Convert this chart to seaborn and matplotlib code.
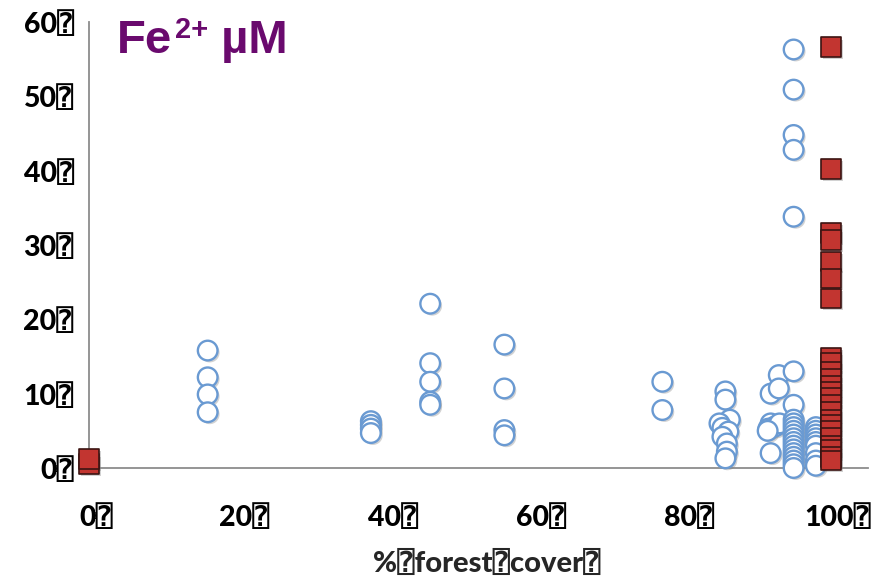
import matplotlib
matplotlib.use("Agg")
import matplotlib.pyplot as plt
import matplotlib.patheffects as pe
import matplotlib.transforms as mtransforms
import seaborn as sns
import pandas as pd

# ---- data ----
circle_x = [16, 16, 16, 16,
            38, 38, 38, 38,
            46, 46, 46, 46, 46,
            56, 56, 56, 56,
            77.3, 77.3,
            85.8, 85.8, 86.4, 85.0, 85.4, 86.2, 85.4, 86.0, 86.0, 85.8,
            93.0, 91.9, 93.0, 91.9, 92.5, 91.6, 93.1, 91.9, 91.5,
            95, 95, 95, 95, 95, 95, 95, 95, 95, 95, 95, 95, 95, 95, 95, 95, 95, 95, 95, 95, 95,
            98, 98, 98, 98, 98, 98, 98, 98, 98]
circle_y = [15.8, 12.2, 9.9, 7.5,
            6.3, 5.8, 5.3, 4.7,
            22.1, 14.1, 11.6, 8.9, 8.5,
            16.6, 10.7, 5.1, 4.4,
            11.6, 7.8,
            10.3, 9.2, 6.5, 6.0, 5.4, 4.9, 4.2, 3.3, 2.2, 1.3,
            12.5, 10.0, 10.7, 6.0, 5.6, 5.3, 6.0, 2.0, 5.0,
            56.3, 50.9, 44.8, 42.8, 33.8, 13.0, 8.5, 6.5, 6.0, 5.5, 5.0, 4.5, 4.0, 3.5, 3.0, 2.5, 2.0, 1.5, 1.0, 0.5, 0.0,
            5.5, 5.0, 4.5, 4.0, 3.5, 3.0, 2.0, 1.0, 0.3]
square_x = [0, 0] + [100] * 24
square_y = [0.5, 1.2,
            56.6, 40.2, 31.6, 30.7, 27.8, 25.5, 22.8, 14.8, 14.2, 13.0, 12.0, 11.0,
            10.2, 9.5, 8.5, 7.5, 6.5, 5.8, 5.0, 4.0, 3.0, 2.5, 1.5, 1.0]

TOFU = "\u2370"
x_ticks = [0, 20, 40, 60, 80, 100]
y_ticks = [0, 10, 20, 30, 40, 50, 60]
x_tick_labels = [f"{v}{TOFU}" for v in x_ticks]
y_tick_labels = [f"{v}{TOFU}" for v in y_ticks]
x_label = f"%{TOFU}forest{TOFU}cover{TOFU}"
title_main = "Fe"
title_sup = "2+"
title_unit = " µM"

circles = pd.DataFrame({"x": circle_x, "y": circle_y})
squares = pd.DataFrame({"x": square_x, "y": square_y})

sns.set_style("white")
plt.rcParams["font.family"] = ["Lato", "DejaVu Sans", "DejaVu Sans Mono"]

W, H = 877, 577
fig = plt.figure(figsize=(W / 100, H / 100), dpi=100)
ax = fig.add_axes([0.1015, 0.1889, 0.888, 0.773])

shadow = [pe.SimplePatchShadow(offset=(1.5, -1.5), shadow_rgbFace="gray", alpha=0.35), pe.Normal()]

sns.scatterplot(data=circles, x="x", y="y", ax=ax, marker="o", s=200,
                facecolor="white", edgecolor="#6a9ad2", linewidth=1.7,
                clip_on=False, zorder=3)
sns.scatterplot(data=squares, x="x", y="y", ax=ax, marker="s", s=200,
                facecolor="#c23530", edgecolor="#3b1412", linewidth=1.2,
                clip_on=False, zorder=4)
for coll in ax.collections:
    coll.set_path_effects(shadow)

ax.set_xlim(0, 105)
ax.set_ylim(0, 60)

for side in ["top", "right"]:
    ax.spines[side].set_visible(False)
for side in ["left", "bottom"]:
    ax.spines[side].set_color("#8c8c8c")
    ax.spines[side].set_linewidth(1.3)

ax.set_xticks(x_ticks)
ax.set_xticklabels(x_tick_labels)
ax.set_yticks(y_ticks)
ax.set_yticklabels(y_tick_labels)
ax.tick_params(axis="both", which="major", length=6, width=1.3, color="#8c8c8c",
               labelsize=20.5, labelcolor="black")
ax.tick_params(axis="x", direction="out", pad=20)
ax.tick_params(axis="y", direction="out", pad=5)
for lab in ax.get_xticklabels() + ax.get_yticklabels():
    lab.set_fontweight("black")
off = mtransforms.ScaledTranslation(7 / 100, 0, fig.dpi_scale_trans)
for lab in ax.get_xticklabels():
    lab.set_transform(lab.get_transform() + off)

ax.set_xlabel("")
ax.set_ylabel("")
fig.text(487 / W, 1 - 563 / H, x_label, ha="center", va="center", fontsize=21,
         fontweight="black")

# title: "Fe" + superscript "2+" + " µM"
tfam = ["Liberation Sans", "DejaVu Sans"]
tcol = "#6a0a6e"
renderer = fig.canvas.get_renderer()
t1 = fig.text(117 / W, 1 - 53 / H, title_main, ha="left", va="baseline", fontsize=34,
              fontweight="bold", color=tcol, family=tfam)
bb1 = t1.get_window_extent(renderer)
t2 = fig.text((bb1.x1 + 3) / W, 1 - 38 / H, title_sup, ha="left", va="baseline",
              fontsize=21, fontweight="bold", color=tcol, family=tfam)
bb2 = t2.get_window_extent(renderer)
fig.text(bb2.x1 / W, 1 - 53 / H, title_unit, ha="left", va="baseline", fontsize=34,
         fontweight="bold", color=tcol, family=tfam)

fig.savefig("out.png", dpi=100)
